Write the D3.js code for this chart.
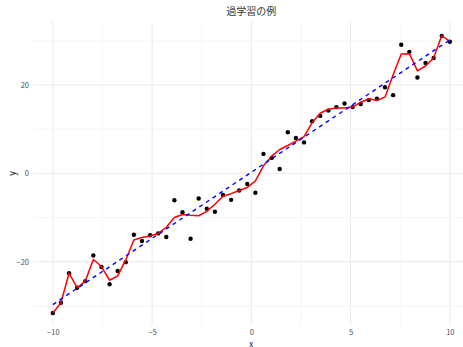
<!DOCTYPE html>
<html>
<head>
<meta charset="utf-8">
<script src="https://cdn.jsdelivr.net/npm/d3@7"></script>
<style>
  html, body { margin: 0; padding: 0; background: #fff; }
  svg { display: block; }
</style>
</head>
<body>
<svg id="chart" width="463" height="347"></svg>
<script>
// Observed samples at 50 evenly spaced x positions in [-10, 10]
const xStart = -10;
const xEnd = 10;
const sampleCount = 50;

const observedY = [
  -31.6, -29.3, -22.6, -25.9, -24.4, -18.6, -21.2, -25.1, -22.1, -20.1,
  -13.9, -15.3, -14.0, -13.6, -14.4, -6.1, -8.8, -14.8, -5.7, -8.0,
  -8.7, -4.9, -6.0, -3.9, -2.4, -4.4, 4.4, 3.5, 1.0, 9.3,
  8.0, 7.0, 11.8, 13.0, 14.2, 15.0, 15.8, 15.0, 15.7, 16.6,
  16.9, 19.5, 17.7, 29.1, 27.5, 21.7, 25.0, 26.1, 31.1, 29.8
];

// Fitted values of the over-flexible model at the same x positions
const overfitY = [
  -31.6, -29.3, -22.6, -25.9, -24.4, -19.5, -21.1, -24.2, -23.2, -19.6,
  -15.1, -14.5, -14.2, -13.6, -12.2, -10.0, -9.3, -9.5, -9.6, -8.6,
  -7.0, -5.2, -4.6, -3.9, -3.2, -1.7, 1.7, 3.9, 5.4, 6.3,
  7.3, 8.3, 11.5, 13.6, 14.5, 14.8, 14.8, 15.0, 16.1, 16.9,
  16.5, 17.3, 22.3, 27.0, 27.1, 23.2, 24.3, 26.1, 31.2, 29.8
];

// Simple linear trend (end points)
const trendX = [-10, 10];
const trendY = [-29.7, 30.2];

const xTicks = [-10, -5, 0, 5, 10];
const xMinor = [-7.5, -2.5, 2.5, 7.5];
const yTicks = [-20, 0, 20];
const yMinor = [-30, -10, 10, 30];

const titleText = "過学習の例";
const xLabel = "x";
const yLabel = "y";

const xs = d3.range(sampleCount).map(i => xStart + i * (xEnd - xStart) / (sampleCount - 1));
const points = xs.map((x, i) => ({ x, y: observedY[i] }));
const fit = xs.map((x, i) => ({ x, y: overfitY[i] }));
const trend = trendX.map((x, i) => ({ x, y: trendY[i] }));

const svg = d3.select("#chart");
const panel = { left: 33, right: 469.7, top: 22, bottom: 325 };

const x = d3.scaleLinear().domain([-11, 11]).range([panel.left, panel.right]);
const y = d3.scaleLinear().domain([-34.33, 34.26]).range([panel.bottom, panel.top]);

const font = "'Noto Sans CJK JP', 'Noto Sans', 'DejaVu Sans', sans-serif";

// Grid
const grid = svg.append("g");
grid.selectAll("line.ymin").data(yMinor).join("line")
  .attr("x1", panel.left).attr("x2", panel.right)
  .attr("y1", d => y(d)).attr("y2", d => y(d))
  .attr("stroke", "#f0f0f0").attr("stroke-width", 0.6);
grid.selectAll("line.xmin").data(xMinor).join("line")
  .attr("y1", panel.top).attr("y2", panel.bottom)
  .attr("x1", d => x(d)).attr("x2", d => x(d))
  .attr("stroke", "#f0f0f0").attr("stroke-width", 0.6);
grid.selectAll("line.ymaj").data(yTicks).join("line")
  .attr("x1", panel.left).attr("x2", panel.right)
  .attr("y1", d => y(d)).attr("y2", d => y(d))
  .attr("stroke", "#ebebeb").attr("stroke-width", 1);
grid.selectAll("line.xmaj").data(xTicks).join("line")
  .attr("y1", panel.top).attr("y2", panel.bottom)
  .attr("x1", d => x(d)).attr("x2", d => x(d))
  .attr("stroke", "#ebebeb").attr("stroke-width", 1);

// Axes (labels only, no lines)
const xAxis = svg.append("g")
  .attr("transform", `translate(0,${panel.bottom})`)
  .call(d3.axisBottom(x).tickValues(xTicks).tickSize(0).tickPadding(5).tickFormat(d3.format("d")));
xAxis.select(".domain").remove();
xAxis.selectAll("text").attr("fill", "#4d4d4d").attr("font-size", 7.5).attr("font-family", font);

const yAxis = svg.append("g")
  .attr("transform", `translate(${panel.left},0)`)
  .call(d3.axisLeft(y).tickValues(yTicks).tickSize(0).tickPadding(4).tickFormat(d3.format("d")));
yAxis.select(".domain").remove();
yAxis.selectAll("text").attr("fill", "#4d4d4d").attr("font-size", 7.5).attr("font-family", font);

// Observed points
svg.append("g").selectAll("circle").data(points).join("circle")
  .attr("cx", d => x(d.x)).attr("cy", d => y(d.y))
  .attr("r", 2.2).attr("fill", "#000");

// Overfit curve
svg.append("path").datum(fit)
  .attr("fill", "none").attr("stroke", "#ff0000").attr("stroke-width", 1.5)
  .attr("stroke-linejoin", "round")
  .attr("d", d3.line().x(d => x(d.x)).y(d => y(d.y)));

// Linear trend
svg.append("path").datum(trend)
  .attr("fill", "none").attr("stroke", "#0000ff").attr("stroke-width", 1.4)
  .attr("stroke-dasharray", "4,4")
  .attr("d", d3.line().x(d => x(d.x)).y(d => y(d.y)));

// Titles
svg.append("text").text(titleText)
  .attr("x", x(0)).attr("y", 15).attr("text-anchor", "middle")
  .attr("font-size", 10).attr("fill", "#333").attr("font-family", font);
svg.append("text").text(xLabel)
  .attr("x", x(0)).attr("y", 346.5).attr("text-anchor", "middle")
  .attr("font-size", 8).attr("fill", "#222").attr("font-family", font);
svg.append("text").text(yLabel)
  .attr("transform", `translate(15,${y(0)}) rotate(-90)`)
  .attr("text-anchor", "middle")
  .attr("font-size", 9).attr("fill", "#222").attr("font-family", font);
</script>
</body>
</html>
